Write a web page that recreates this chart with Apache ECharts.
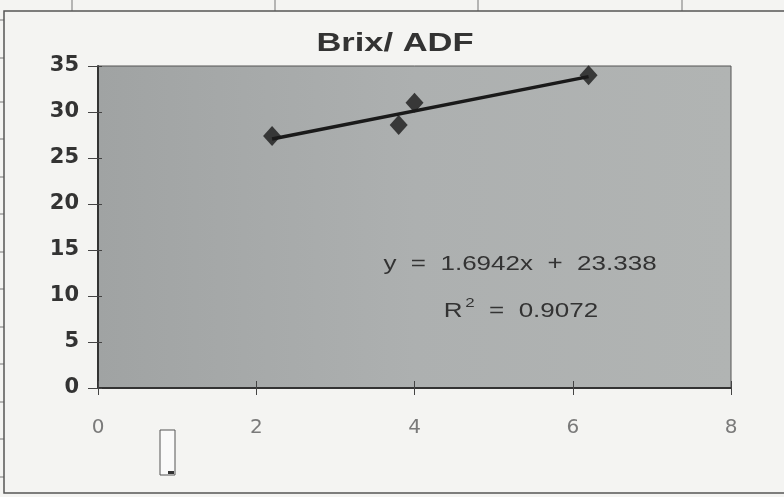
<!DOCTYPE html>
<html>
<head>
<meta charset="utf-8">
<script src="https://cdn.jsdelivr.net/npm/echarts@6/dist/echarts.min.js"></script>
<style>
  html, body { margin: 0; padding: 0; background: #f4f4f2; }
  #chart { width: 784px; height: 497px; }
</style>
</head>
<body>
<div id="chart"></div>
<script>
// Brix vs ADF measurements
const brix = [2.2, 3.8, 4.0, 6.2];
const adf = [27.4, 28.6, 31.0, 34.0];

// Linear trendline as reported on the chart
const slope = 1.6942;
const intercept = 23.338;
const rSquared = '0.9072';

const xTicks = [0, 2, 4, 6, 8];
const yTicks = [0, 5, 10, 15, 20, 25, 30, 35];

const points = brix.map((x, i) => [x, adf[i]]);
const xStart = Math.min(...brix);
const xEnd = Math.max(...brix);
const trend = [[xStart, slope * xStart + intercept], [xEnd, slope * xEnd + intercept]];

const chart = echarts.init(document.getElementById('chart'));

// Sheet gridlines and chart frame around the embedded chart
const frame = [];
[72, 275, 478, 682].forEach(x => frame.push({
  type: 'line', shape: { x1: x, y1: 0, x2: x, y2: 11 },
  style: { stroke: '#777', lineWidth: 1 }, silent: true
}));
[20, 58, 102, 139, 177, 214, 252, 289, 327, 364, 402, 439, 477].forEach(y => frame.push({
  type: 'line', shape: { x1: 0, y1: y, x2: 4, y2: y },
  style: { stroke: '#777', lineWidth: 1 }, silent: true
}));
frame.push({
  type: 'polyline', shape: { points: [[784, 11], [4, 11], [4, 493], [784, 493]] },
  style: { stroke: '#555', lineWidth: 1.5, fill: null }, silent: true
});
// Small stray cell box below the x axis
frame.push({
  type: 'rect', shape: { x: 160, y: 430, width: 15, height: 45 },
  style: { stroke: '#555', lineWidth: 1, fill: '#fafafa' }, silent: true
});
frame.push({
  type: 'rect', shape: { x: 168, y: 471, width: 6, height: 3 },
  style: { fill: '#333' }, silent: true
});

// Wide lettering, as in the printed chart
const wideText = (x, y, text, size, weight, sx, rich) => ({
  type: 'text', x: x, y: y, scaleX: sx, silent: true, z: 10,
  style: Object.assign({
    text: text, fontFamily: 'Liberation Sans', fontSize: size, fontWeight: weight,
    fill: '#333', textAlign: 'center', textVerticalAlign: 'middle'
  }, rich ? { rich: rich } : {})
});

chart.setOption({
  backgroundColor: '#f4f4f2',
  animation: false,
  grid: {
    left: 98, right: 53, top: 66, bottom: 109,
    show: true, borderColor: '#555', borderWidth: 1,
    backgroundColor: {
      type: 'linear', x: 0, y: 0, x2: 1, y2: 0,
      colorStops: [
        { offset: 0, color: '#a0a3a3' },
        { offset: 0.5, color: '#adb0b0' },
        { offset: 1, color: '#b1b4b3' }
      ]
    }
  },
  xAxis: [{
    type: 'value', min: xTicks[0], max: xTicks[xTicks.length - 1], interval: 2,
    axisLine: { onZero: false, lineStyle: { color: '#333', width: 2 } },
    axisTick: { show: true, length: 7, lineStyle: { color: '#444', width: 1 } },
    axisLabel: { margin: 30, fontFamily: 'DejaVu Sans', fontSize: 20, color: '#7a7a7a' },
    splitLine: { show: false }
  }, {
    type: 'value', position: 'bottom', min: xTicks[0], max: xTicks[xTicks.length - 1], interval: 2,
    axisLine: { show: false },
    axisTick: { show: true, inside: true, length: 7, lineStyle: { color: '#444', width: 1 } },
    axisLabel: { show: false }, splitLine: { show: false }
  }],
  yAxis: [{
    type: 'value', min: yTicks[0], max: yTicks[yTicks.length - 1], interval: 5,
    axisLine: { onZero: false, lineStyle: { color: '#333', width: 2 } },
    axisTick: { show: true, length: 10, lineStyle: { color: '#444', width: 1 } },
    axisLabel: { margin: 19, fontFamily: 'DejaVu Sans', fontSize: 21, fontWeight: 'bold', color: '#333' },
    splitLine: { show: false }
  }, {
    type: 'value', position: 'left', min: yTicks[0], max: yTicks[yTicks.length - 1], interval: 5,
    axisLine: { show: false },
    axisTick: { show: true, inside: true, length: 4, lineStyle: { color: '#444', width: 1 } },
    axisLabel: { show: false }, splitLine: { show: false }
  }],
  series: [{
    type: 'line',
    data: trend,
    showSymbol: false,
    lineStyle: { color: '#1a1a1a', width: 3.5 },
    z: 2
  }, {
    type: 'scatter',
    data: points,
    symbol: 'diamond',
    symbolSize: [18, 20],
    itemStyle: { color: '#1a1a1a' },
    z: 3
  }],
  graphic: frame.concat([
    wideText(395, 44, 'Brix/ ADF', 25, 'bold', 1.38),
    wideText(520, 264, 'y  =  1.6942x  +  23.338', 20, 'normal', 1.3),
    wideText(521, 308, '{r|R}{s|2}{r|  =  ' + rSquared + '}', 20, 'normal', 1.3, {
      r: { fontFamily: 'Liberation Sans', fontSize: 20, fill: '#333', padding: [6, 0, 0, 0] },
      s: { fontFamily: 'Liberation Sans', fontSize: 13, fill: '#333', padding: [0, 0, 10, 2] }
    })
  ])
});
</script>
</body>
</html>
